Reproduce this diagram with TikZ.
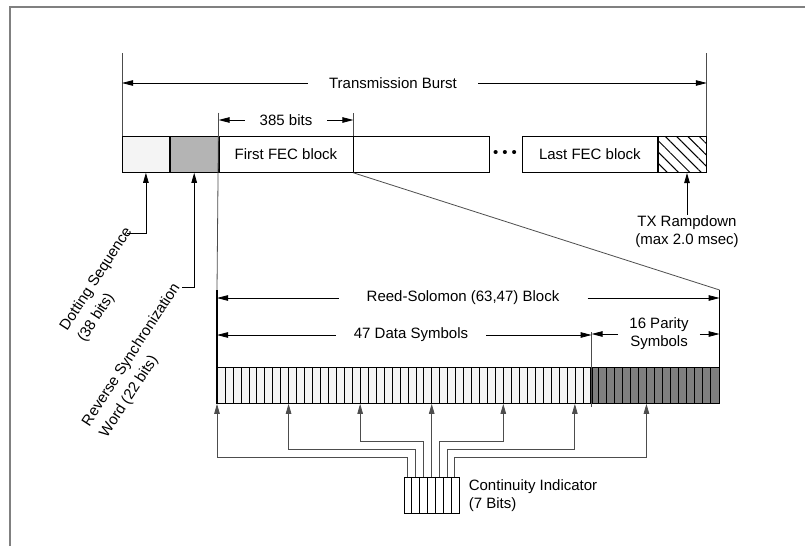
\documentclass[tikz,border=0pt]{standalone}
\usepackage{fontspec}
\setmainfont{Liberation Sans}
\usetikzlibrary{arrows.meta,positioning,calc,patterns.meta}
\definecolor{cLite} {HTML}{F4F4F4}
\definecolor{cSync} {HTML}{B4B4B4}
\definecolor{cPar}  {HTML}{7F7F7F}
\definecolor{cLine} {HTML}{4D4D4D}
\definecolor{cFrame}{HTML}{808080}
\newcommand{\symw}{7.9524}% one RS symbol, 501/63
\tikzset{
  cell/.style  ={draw=black,line width=0.8pt,minimum height=36pt,inner sep=0pt,
                 anchor=north west},
  dimlbl/.style={inner xsep=18pt,inner ysep=0pt},
  ext/.style   ={draw=black!70,line width=0.8pt},
  dimarr/.style={-{Triangle[length=11pt,width=5.5pt]},draw=black,line width=0.8pt},
  arr/.style   ={-{Triangle[length=10pt,width=5.5pt]},draw=black,line width=0.8pt},
  ciarr/.style ={arr,draw=cLine},
  edge/.style  ={draw=black,line width=1.6pt},
  frame/.style ={draw=cFrame,line width=1.5pt},
  rotlbl/.style={rotate=57,align=left,inner sep=0pt,anchor=north east},
}

\begin{document}
\begin{tikzpicture}[x=1pt,y=-1pt,font=\fontsize{15}{18}\selectfont]
\useasboundingbox (0,0) rectangle (805,546);
\draw[frame] (10,546) -- (10,7) -- (805,7);

% the burst itself
\node[cell,fill=cLite,minimum width=47pt] (dot) at (122,136) {};
\node[cell,fill=cSync,minimum width=48pt] (sync) at (dot.north east) {};
\node[cell,minimum width=134pt] (fec1) at (sync.north east) {First FEC block};
\node[cell,minimum width=136pt] (fec2) at (fec1.north east) {};
\node (ell) at (505,154) {\textbullet\kern4pt\textbullet\kern4pt\textbullet};
\node[cell,minimum width=135pt] (fecN) at (522,136) {Last FEC block};
\node[cell,minimum width=48pt,
      pattern={Lines[angle=-45,distance=8pt,line width=1pt]}] (ramp) at (fecN.north east) {};

% overall length
\draw[ext] (dot.north west) -- ++(0,-83) coordinate (tbL);
\draw[ext] (ramp.north east) -- ++(0,-83) coordinate (tbR);
\node[dimlbl,inner xsep=21pt] (tb) at (393,83) {Transmission Burst};
\draw[dimarr] (tb.west) -- (tb.west -| tbL);
\draw[dimarr] (tb.east) -- (tb.east -| tbR);

% one FEC block
\draw[ext] (fec1.north east) -- ++(0,-23) coordinate (bitsR);
\coordinate (bitsL) at (sync.north east |- bitsR);
\node[dimlbl,inner xsep=15pt] (bits) at (286,120) {385 bits};
\draw[dimarr] (bits.west) -- (bits.west -| bitsL);
\draw[dimarr] (bits.east) -- (bits.east -| bitsR);

% labels under the burst
\coordinate (dotK) at (127,233);
\draw[arr] (dotK) -| (dot.south);
\node[rotlbl] (dotl) at ($(dotK)+(-4,-8)$) {Dotting Sequence\\[3pt](38 bits)};
\coordinate (syncK) at (182,287);
\draw[arr] (syncK) -| (sync.south);
\node[rotlbl] (syncl) at ($(syncK)+(-11,-6)$) {Reverse Synchronization\\[3pt]Word (22 bits)};
\node[align=center,inner sep=1pt] (txl) at (687,232) {TX Rampdown\\(max 2.0 msec)};
\draw[arr] (txl.north) -- (txl.north |- ramp.south);

% Reed-Solomon block, 63 symbols
\node[cell,fill=cLite,minimum width=373.8pt] (data) at (217,367) {};
\node[cell,fill=cPar,minimum width=127.2pt] (par) at (data.north east) {};
\foreach \i in {1,...,62}
  \draw[line width=0.6pt] ($(data.north west)+({\i*\symw},0)$) -- ++(0,36);
\coordinate (rsL) at ($(data.north west)+(0,-77)$);
\coordinate (rsR) at ($(par.north east)+(0,-77)$);
\draw[ext] (bitsL) -- (rsL);
\draw[edge] (rsL) -- (data.south west);
\draw[edge] (rsR) -- (par.south east);
\draw[ext] (fec1.south east) -- (rsR);

\node[dimlbl,inner xsep=28pt] (rs) at (463,298) {Reed-Solomon (63,47) Block};
\draw[dimarr] (rs.west) -- (rs.west -| rsL);
\draw[dimarr] (rs.east) -- (rs.east -| rsR);

\coordinate (sepT) at ($(data.north east)+(0,-35)$);
\draw[ext,line width=0.6pt] (sepT) -- ($(data.south east)+(0,3)$);
\node[dimlbl] (ds) at (411,335) {47 Data Symbols};
\draw[dimarr] (ds.west) -- (ds.west -| rsL);
\draw[dimarr] (ds.east) -- (ds.east -| sepT);
\node[dimlbl,inner xsep=11pt,align=center] (ps) at (659,334) {16 Parity\\Symbols};
\draw[dimarr] (ps.west) -- (ps.west -| sepT);
\draw[dimarr] (ps.east) -- (ps.east -| rsR);

% continuity indicator, spread every 9 symbols
\node[cell,anchor=north,minimum width=55pt] (ci) at ($(data.south west)+({27*\symw},73)$) {};
\foreach \i in {1,...,6}
  \draw[line width=0.6pt] ($(ci.north west)+({\i*55/7},0)$) -- ++(0,36);
\node[right=9pt of ci,align=left,inner sep=0pt] (cil) {Continuity Indicator\\(7 Bits)};
\foreach \k/\lev in {0/457,1/449,2/441,3/441,4/441,5/449,6/457}{
  \path ($(ci.north west)+({(\k+0.5)*55/7},0)$) coordinate (s)
        ($(data.south west)+({\k*9*\symw},0)$) coordinate (t);
  \draw[ciarr] (s) |- ($(t)+(0,{\lev-403})$) -- (t);
}
\end{tikzpicture}
\end{document}
